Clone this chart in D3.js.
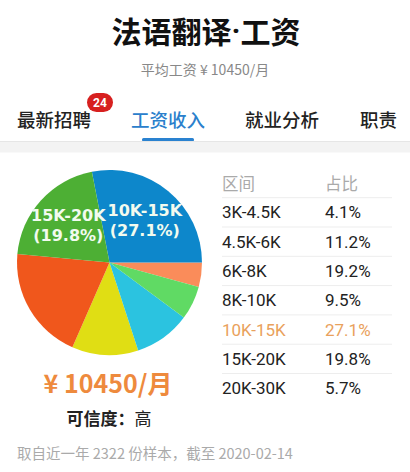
<!DOCTYPE html>
<html><head><meta charset="utf-8">
<script src="https://cdn.jsdelivr.net/npm/d3@7"></script>
<style>
html,body{margin:0;padding:0;background:#fff;}
svg{display:block;}
</style></head>
<body><svg id="c" width="410" height="472"></svg>
<script>
const titleParts = ["法语翻译", "·", "工资"];
const subtitle = "平均工资 ¥ 10450/月";
const tabs = ["最新招聘", "工资收入", "就业分析", "职责"];
const badge = "24";
const categories = ["3K-4.5K", "4.5K-6K", "6K-8K", "8K-10K", "10K-15K", "15K-20K", "20K-30K"];
const values = [4.1, 11.2, 19.2, 9.5, 27.1, 19.8, 5.7];
const colors = ["#fa8c5a", "#e0de14", "#f0571c", "#2bc3e0", "#0d87cb", "#4daf34", "#60da64"];
const labeled = ["10K-15K", "15K-20K"];
const highlight = "10K-15K";
const headers = ["区间", "占比"];
const avgText = "¥ 10450/月";
const credLabel = "可信度：";
const credValue = "高";
const footer = "取自近一年 2322 份样本，截至 2020-02-14";

const svg = d3.select("#c");
const CJK = "'Noto Sans CJK SC','Noto Sans',sans-serif";
const LAT = "Roboto,'Noto Sans CJK SC',sans-serif";

svg.append("rect").attr("width",410).attr("height",472).attr("fill","#fff");

// title
const tt = svg.append("text").attr("x",206).attr("y",30).attr("text-anchor","middle")
  .attr("dominant-baseline","central").attr("font-family",CJK).attr("font-weight","bold")
  .attr("font-size",30).attr("fill","#111");
tt.append("tspan").text(titleParts[0]);
tt.append("tspan").attr("font-family","Roboto,'DejaVu Sans',sans-serif").text(titleParts[1]);
tt.append("tspan").text(titleParts[2]);
svg.append("text").attr("x",205).attr("y",69).attr("text-anchor","middle")
  .attr("dominant-baseline","central").attr("font-family",CJK)
  .attr("font-size",14).attr("fill","#888").text(subtitle);

// tabs
const tabX = [17, 131, 245, 360];
tabs.forEach((t,i)=>{
  svg.append("text").attr("x",tabX[i]).attr("y",119).attr("dominant-baseline","central")
    .attr("font-family",CJK).attr("font-size",18.5).attr("font-weight",500)
    .attr("fill", i===1 ? "#2a80cc" : "#222").text(t);
});
svg.append("rect").attr("x",142).attr("y",138).attr("width",52).attr("height",3.5)
  .attr("rx",1.5).attr("fill","#2a82d0");
svg.append("rect").attr("x",87).attr("y",93).attr("width",26).attr("height",19).attr("rx",9.5)
  .attr("fill","#d7201f");
svg.append("text").attr("x",100).attr("y",102.5).attr("text-anchor","middle")
  .attr("dominant-baseline","central").attr("font-family",LAT).attr("font-weight","bold")
  .attr("font-size",12).attr("fill","#fff").text(badge);

// separator band
svg.append("rect").attr("x",0).attr("y",141.5).attr("width",410).attr("height",11).attr("fill","#f3f3f3");
svg.append("line").attr("x1",0).attr("x2",410).attr("y1",141.5).attr("y2",141.5).attr("stroke","#e6e6e6");

// pie
const data = categories.map((c,i)=>({cat:c, v:values[i], color:colors[i]}));
const cx = 109.5, cy = 262.5, R = 92.5;
const pie = d3.pie().value(d=>d.v).sort((a,b)=>a.v-b.v)
  .startAngle(Math.PI/2).endAngle(Math.PI/2 + 2*Math.PI);
const arcs = pie(data);
const arc = d3.arc().innerRadius(0).outerRadius(R);
const g = svg.append("g").attr("transform",`translate(${cx},${cy})`);
g.selectAll("path").data(arcs).join("path").attr("d",arc).attr("fill",d=>d.data.color);
const labelArc = d3.arc().innerRadius(R*0.6).outerRadius(R*0.6);
arcs.filter(d=>labeled.includes(d.data.cat)).forEach(d=>{
  const [x,y] = labelArc.centroid(d);
  const t = g.append("text").attr("text-anchor","middle")
    .attr("font-family","'DejaVu Sans',Verdana,sans-serif").attr("font-weight","bold")
    .attr("font-size",16).attr("fill","#f2fbef");
  t.append("tspan").attr("x",x).attr("y",y-4).text(d.data.cat);
  t.append("tspan").attr("x",x).attr("y",y+16).text("(" + d.data.v.toFixed(1) + "%)");
});

// avg + credibility
svg.append("text").attr("x",108).attr("y",382).attr("text-anchor","middle")
  .attr("dominant-baseline","central").attr("font-family",CJK).attr("font-weight","bold")
  .attr("font-size",25).attr("fill","#ee8a3d").text(avgText);
const cred = svg.append("text").attr("x",109).attr("y",417).attr("text-anchor","middle")
  .attr("dominant-baseline","central").attr("font-family",CJK).attr("font-size",17).attr("fill","#222");
cred.append("tspan").attr("font-weight","bold").text(credLabel);
cred.append("tspan").attr("font-weight","normal").text(credValue);

// table
const colX = [222, 325];
const rowY = d3.scaleLinear().domain([0,1]).range([183, 212.3]);
headers.forEach((h,i)=>{
  svg.append("text").attr("x",colX[i]).attr("y",rowY(0)).attr("dominant-baseline","central")
    .attr("font-family",CJK).attr("font-size",16.5).attr("fill","#aaa").text(h);
});
categories.forEach((c,i)=>{
  const y = rowY(i+1);
  svg.append("line").attr("x1",222).attr("x2",392).attr("y1",y-14.6).attr("y2",y-14.6)
    .attr("stroke","#ededed").attr("stroke-width",1);
  const col = c===highlight ? "#e9a15c" : "#222";
  svg.append("text").attr("x",colX[0]).attr("y",y).attr("dominant-baseline","central")
    .attr("font-family",LAT).attr("font-size",17).attr("fill",col).text(c);
  svg.append("text").attr("x",colX[1]).attr("y",y).attr("dominant-baseline","central")
    .attr("font-family",LAT).attr("font-size",17).attr("fill",col).text(values[i].toFixed(1)+"%");
});

// footer
svg.append("text").attr("x",17).attr("y",452).attr("dominant-baseline","central")
  .attr("font-family",CJK).attr("font-size",14.5).attr("fill","#aaa").text(footer);
</script></body></html>
